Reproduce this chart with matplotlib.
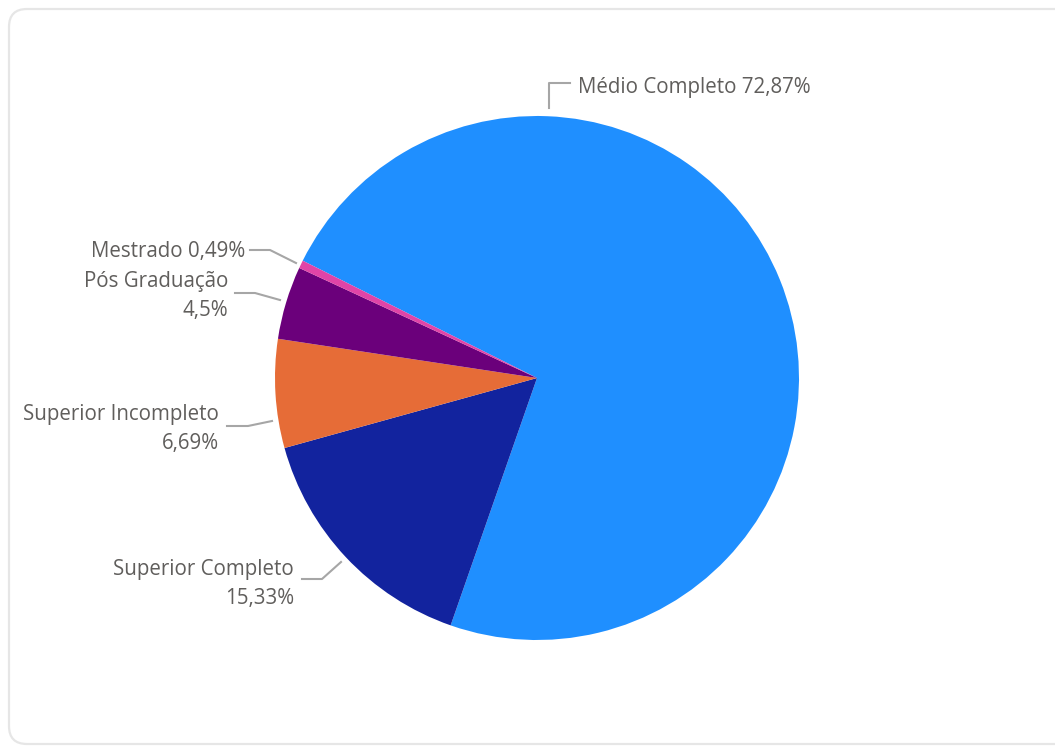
import matplotlib.pyplot as plt
from matplotlib.patches import FancyBboxPatch

# dados do grafico
categorias = ['Médio Completo', 'Superior Completo', 'Superior Incompleto', 'Pós Graduação', 'Mestrado']
percentuais = [72.87, 15.33, 6.69, 4.5, 0.49]
cores = ['#1F8FFF', '#12239E', '#E66C37', '#6B007B', '#E044A7']

W, H = 1055, 746
cinza_texto = '#605E5C'
cinza_linha = '#A6A6A6'

plt.rcParams['font.family'] = ['Open Sans', 'DejaVu Sans']

fig = plt.figure(figsize=(W / 100, H / 100), dpi=100)
ax = fig.add_axes([0, 0, 1, 1])

# cartao com borda arredondada (estilo Power BI)
card = FancyBboxPatch((9, 2), W + 20, H - 9 - 2, boxstyle='round,pad=0,rounding_size=18',
                      facecolor='white', edgecolor='#E6E6E6', linewidth=1.6, zorder=0)
ax.add_patch(card)

# pizza - comeca no canto superior esquerdo e vai no sentido horario
ax.pie(percentuais, colors=cores, startangle=153.4, counterclock=False,
       center=(537, H - 378), radius=262, wedgeprops={'linewidth': 0}, frame=True)

def Y(y):
    return H - y

def rotulo(v):
    return ('%g' % v).replace('.', ',') + '%'

fs = 14.8
# Medio Completo
ax.plot([549, 549, 570], [Y(108), Y(83), Y(83)], color=cinza_linha, lw=1.5)
ax.text(578, Y(88), categorias[0] + ' ' + rotulo(percentuais[0]), ha='left', va='center',
        fontsize=fs, color=cinza_texto)
# Mestrado
ax.plot([250, 270, 296], [Y(250), Y(250), Y(263)], color=cinza_linha, lw=1.5)
ax.text(245, Y(252), categorias[4] + ' ' + rotulo(percentuais[4]), ha='right', va='center',
        fontsize=fs, color=cinza_texto)
# Pos Graduacao
ax.plot([235, 255, 280], [Y(293), Y(293), Y(300)], color=cinza_linha, lw=1.5)
ax.text(228, Y(296), categorias[3] + '\n' + rotulo(percentuais[3]), ha='right', va='center',
        multialignment='right', fontsize=fs, color=cinza_texto, linespacing=1.45)
# Superior Incompleto
ax.plot([227, 248, 272], [Y(426), Y(426), Y(421)], color=cinza_linha, lw=1.5)
ax.text(219, Y(429), categorias[2] + '\n' + rotulo(percentuais[2]), ha='right', va='center',
        multialignment='right', fontsize=fs, color=cinza_texto, linespacing=1.45)
# Superior Completo
ax.plot([302, 322, 341], [Y(579), Y(579), Y(562)], color=cinza_linha, lw=1.5)
ax.text(294, Y(584), categorias[1] + '\n' + rotulo(percentuais[1]), ha='right', va='center',
        multialignment='right', fontsize=fs, color=cinza_texto, linespacing=1.45)

ax.set_xlim(0, W)
ax.set_ylim(0, H)
ax.set_aspect('auto')
ax.axis('off')

fig.savefig('out.png', dpi=100, facecolor='white')
plt.close()
